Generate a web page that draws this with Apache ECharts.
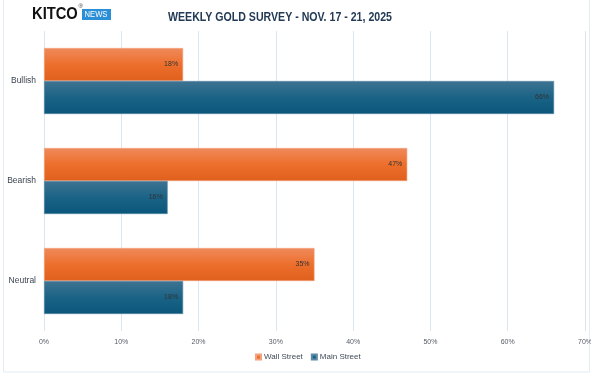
<!DOCTYPE html>
<html><head><meta charset="utf-8">
<script src="https://cdn.jsdelivr.net/npm/echarts@6/dist/echarts.min.js"></script>
<style>html,body{margin:0;padding:0;background:#fff}#c{width:591px;height:388px}</style>
</head><body><div id="c"></div>
<script>
const categories = ['Bullish', 'Bearish', 'Neutral'];
const wallStreet = [18, 47, 35];
const mainStreet = [66, 16, 18];
const seriesNames = ['Wall Street', 'Main Street'];
const titleText = 'WEEKLY GOLD SURVEY - NOV. 17 - 21, 2025';

const chart = echarts.init(document.getElementById('c'), null, {renderer: 'canvas'});
const orangeGrad = new echarts.graphic.LinearGradient(0, 0, 0, 1, [
  {offset: 0, color: '#ef8a5c'}, {offset: 0.5, color: '#ed6f2c'}, {offset: 1, color: '#e05f1c'}]);
const blueGrad = new echarts.graphic.LinearGradient(0, 0, 0, 1, [
  {offset: 0, color: '#3f7391'}, {offset: 0.5, color: '#1a6386'}, {offset: 1, color: '#0a567a'}]);
const labelCfg = {show: true, position: 'insideRight', distance: 5, fontSize: 7, color: '#333333',
  fontFamily: 'Liberation Sans, sans-serif', formatter: p => p.value + '%'};
chart.setOption({
  animation: false,
  backgroundColor: '#fff',
  graphic: [
    {type: 'rect', shape: {x: 3.5, y: -2, width: 586, height: 374}, style: {fill: 'none', stroke: '#e4ecf4', lineWidth: 1}, silent: true},
    {type: 'text', x: 168, y: 17, scaleX: 0.815, style: {text: titleText, font: 'bold 13px "Liberation Sans", sans-serif', fill: '#233a55', verticalAlign: 'middle'}},
    {type: 'text', x: 32, y: 14.5, scaleX: 0.92, style: {text: 'KITCO', font: 'bold 16px "Liberation Sans", sans-serif', fill: '#111', verticalAlign: 'middle'}},
    {type: 'text', x: 78.5, y: 6, style: {text: '®', font: '6px "Liberation Sans", sans-serif', fill: '#333', verticalAlign: 'middle'}},
    {type: 'rect', shape: {x: 82, y: 9, width: 29, height: 11}, style: {fill: '#2a8fd6'}},
    {type: 'text', x: 84.5, y: 15, scaleX: 0.85, style: {text: 'NEWS', font: '9px "Liberation Sans", sans-serif', fill: '#fff', verticalAlign: 'middle'}}
  ],
  legend: {bottom: 22, left: 250, itemWidth: 5, itemHeight: 5, itemGap: 8, icon: 'rect',
    textStyle: {fontSize: 8, color: '#404a58', padding: [0, 0, 0, -2], fontFamily: 'Liberation Sans, sans-serif'},
    data: seriesNames},
  grid: {left: 44, right: 6, top: 31, bottom: 57, outerBoundsMode: 'none', containLabel: false},
  xAxis: {type: 'value', min: 0, max: 70, interval: 10,
    axisLabel: {formatter: '{value}%', fontSize: 7, color: '#555c66', margin: 8, fontFamily: 'Liberation Sans, sans-serif'},
    splitLine: {lineStyle: {color: '#dce6f1', width: 1}},
    axisLine: {show: false}, axisTick: {show: false}},
  yAxis: {type: 'category', data: categories, inverse: true,
    axisLabel: {fontSize: 8.5, color: '#3c4450', margin: 8, fontFamily: 'Liberation Sans, sans-serif'},
    axisLine: {show: false}, axisTick: {show: false}, splitLine: {show: false}},
  series: [
    {name: seriesNames[0], type: 'bar', data: wallStreet, barGap: '0%', barCategoryGap: '34%',
      itemStyle: {color: orangeGrad, borderColor: '#f3a27e', borderWidth: 0.6}, label: labelCfg},
    {name: seriesNames[1], type: 'bar', data: mainStreet,
      itemStyle: {color: blueGrad, borderColor: '#5d8aa6', borderWidth: 0.6}, label: labelCfg}
  ]
});
</script></body></html>
